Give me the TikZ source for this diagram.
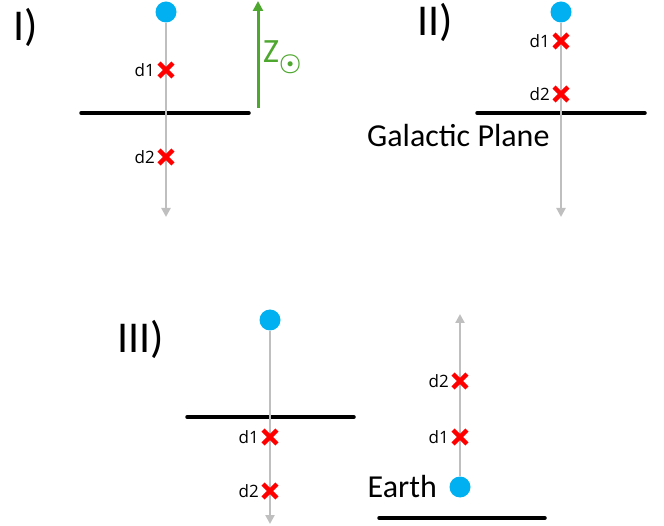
\documentclass[tikz,border=0pt]{standalone}
\usepackage{amsmath}
\usepackage{fontspec}
\setmainfont{Carlito}
\newfontfamily\lblfont{Open Sans}
\usepackage{xcolor}
\usetikzlibrary{arrows.meta,positioning,shapes.misc}
\definecolor{skyblue}{HTML}{00B0F0}
\definecolor{crossred}{HTML}{FF0000}
\definecolor{raygray}{HTML}{BFBFBF}
\definecolor{sungreen}{HTML}{4EA72E}

\begin{document}
\begin{tikzpicture}[
  x=1pt,y=-1pt,
  star/.style={circle,fill=skyblue,minimum size=21pt,inner sep=0pt},
  dist/.style={cross out,draw=crossred,line width=4.4pt,minimum size=9.5pt,inner sep=0pt},
  dlbl/.style={font=\lblfont\fontsize{17}{17}\selectfont,inner sep=1pt,left=3pt},
  big/.style={font=\fontsize{44}{44}\selectfont,inner sep=0pt},
  txt/.style={font=\fontsize{32}{32}\selectfont,inner sep=0pt},
  plane/.style={line width=3.5pt,line cap=round},
  ray/.style={draw=raygray,line width=2.8pt,-{Triangle[width=9pt,length=9pt]}},
  zarr/.style={draw=sungreen,line width=3pt,-{Triangle[width=10pt,length=10pt]}}
]
\useasboundingbox (0,0) rectangle (664,526);
% panel I
\node[big] (tI) at (26,27) {I)};
\coordinate (gIa) at (81,113);
\coordinate (gIb) at (249,113);
\draw[plane] (gIa) -- (gIb);
\node[star] (sI) at (166,12) {};
\coordinate (eI) at (166,217);
\draw[ray] (sI) -- (eI);
\node[dist] (aI) at (166,70) {};
\node[dist] (bI) at (166,157) {};
\node[dlbl] at (aI.west) {d1};
\node[dlbl] at (bI.west) {d2};
\coordinate (zlo) at (258,108);
\coordinate (zhi) at (258,1);
\draw[zarr] (zlo) -- (zhi);
\node[font=\fontsize{34}{34}\selectfont,text=sungreen,anchor=base west,inner sep=0pt] (zs) at (263,63) {Z$_{\boldsymbol{\odot}}$};
% panel II
\node[big] (tII) at (435,22) {II)};
\coordinate (gIIa) at (477,113);
\coordinate (gIIb) at (645,113);
\draw[plane] (gIIa) -- (gIIb);
\node[txt,anchor=base west] (gp) at (367,147) {Galactic Plane};
\node[star] (sII) at (561,12) {};
\coordinate (eII) at (561,217);
\draw[ray] (sII) -- (eII);
\node[dist] (aII) at (561,41) {};
\node[dist] (bII) at (561,94) {};
\node[dlbl] at (aII.west) {d1};
\node[dlbl] at (bII.west) {d2};
% panel III
\node[big] (tIII) at (141,339) {III)};
\coordinate (gIIIa) at (187,417);
\coordinate (gIIIb) at (354,417);
\draw[plane] (gIIIa) -- (gIIIb);
\node[star] (sIII) at (270,320) {};
\coordinate (eIII) at (270,524);
\draw[ray] (sIII) -- (eIII);
\node[dist] (aIII) at (270,437) {};
\node[dist] (bIII) at (270,491) {};
\node[dlbl] at (aIII.west) {d1};
\node[dlbl] at (bIII.west) {d2};
% earth
\coordinate (gEa) at (379,518);
\coordinate (gEb) at (545,518);
\draw[plane] (gEa) -- (gEb);
\node[star] (earth) at (460,487) {};
\node[txt,anchor=base east] (el) at (437,497) {Earth};
\coordinate (eE) at (460,314);
\draw[ray] (earth) -- (eE);
\node[dist] (aE) at (460,437) {};
\node[dist] (bE) at (460,381) {};
\node[dlbl] at (aE.west) {d1};
\node[dlbl] at (bE.west) {d2};
\end{tikzpicture}
\end{document}
